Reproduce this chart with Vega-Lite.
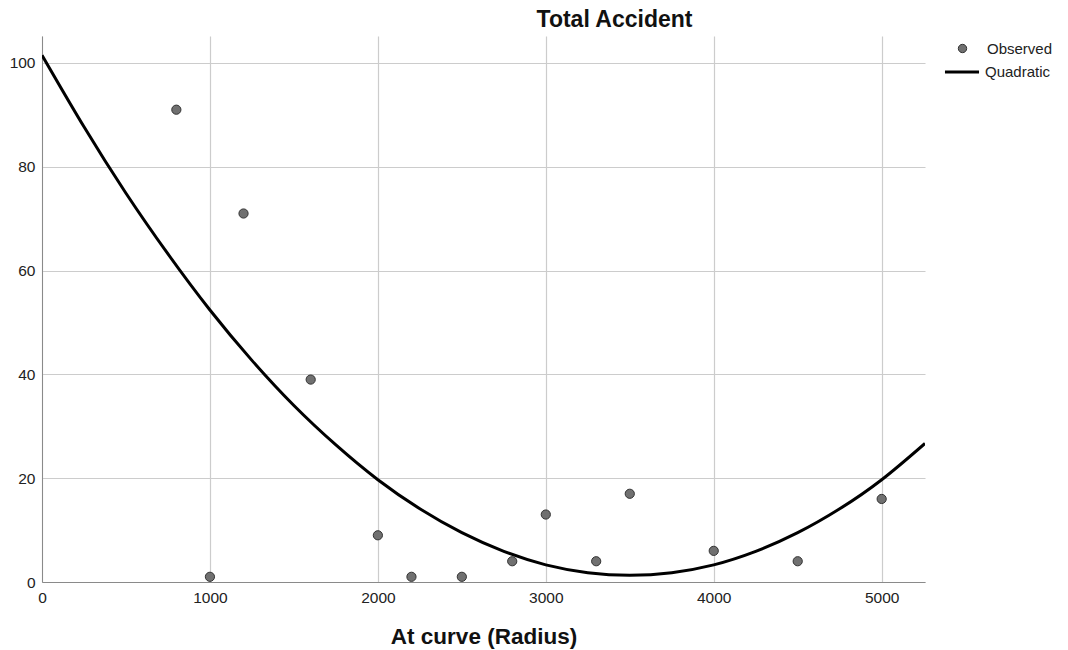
{
  "$schema": "https://vega.github.io/schema/vega-lite/v6.json",
  "autosize": "none",
  "padding": {"left": 42, "top": 36, "right": 143, "bottom": 68},
  "width": 883,
  "height": 546,
  "background": "white",
  "title": {"text": "Total Accident", "fontSize": 23, "fontWeight": "bold", "font": "Liberation Sans", "color": "#111", "anchor": "middle", "dx": 131, "offset": 4},
  "config": {
    "view": {"stroke": null},
    "font": "Liberation Sans",
    "axis": {"domainColor": "#8a8a8a", "gridColor": "#cccccc", "gridWidth": 1.2, "ticks": false, "labelFont": "Liberation Sans", "labelFontSize": 15.5, "labelColor": "#222", "labelFlush": false, "format": "d"}
  },
  "datasets": {
    "obs": [
      {"radius": 800, "acc": 91, "series": "Observed"},
      {"radius": 1000, "acc": 1, "series": "Observed"},
      {"radius": 1200, "acc": 71, "series": "Observed"},
      {"radius": 1600, "acc": 39, "series": "Observed"},
      {"radius": 2000, "acc": 9, "series": "Observed"},
      {"radius": 2200, "acc": 1, "series": "Observed"},
      {"radius": 2500, "acc": 1, "series": "Observed"},
      {"radius": 2800, "acc": 4, "series": "Observed"},
      {"radius": 3000, "acc": 13, "series": "Observed"},
      {"radius": 3300, "acc": 4, "series": "Observed"},
      {"radius": 3500, "acc": 17, "series": "Observed"},
      {"radius": 4000, "acc": 6, "series": "Observed"},
      {"radius": 4500, "acc": 4, "series": "Observed"},
      {"radius": 5000, "acc": 16, "series": "Observed"}
    ],
    "fit": [
      {"radius": 0, "acc": 101.5, "series": "Quadratic"},
      {"radius": 250, "acc": 87.7, "series": "Quadratic"},
      {"radius": 500, "acc": 74.9, "series": "Quadratic"},
      {"radius": 750, "acc": 63.2, "series": "Quadratic"},
      {"radius": 1000, "acc": 52.4, "series": "Quadratic"},
      {"radius": 1250, "acc": 42.7, "series": "Quadratic"},
      {"radius": 1500, "acc": 34.0, "series": "Quadratic"},
      {"radius": 1750, "acc": 26.4, "series": "Quadratic"},
      {"radius": 2000, "acc": 19.7, "series": "Quadratic"},
      {"radius": 2250, "acc": 14.1, "series": "Quadratic"},
      {"radius": 2500, "acc": 9.5, "series": "Quadratic"},
      {"radius": 2750, "acc": 5.9, "series": "Quadratic"},
      {"radius": 3000, "acc": 3.3, "series": "Quadratic"},
      {"radius": 3250, "acc": 1.8, "series": "Quadratic"},
      {"radius": 3500, "acc": 1.3, "series": "Quadratic"},
      {"radius": 3750, "acc": 1.8, "series": "Quadratic"},
      {"radius": 4000, "acc": 3.3, "series": "Quadratic"},
      {"radius": 4250, "acc": 5.9, "series": "Quadratic"},
      {"radius": 4500, "acc": 9.5, "series": "Quadratic"},
      {"radius": 4750, "acc": 14.1, "series": "Quadratic"},
      {"radius": 5000, "acc": 19.7, "series": "Quadratic"},
      {"radius": 5258, "acc": 26.7, "series": "Quadratic"}
    ]
  },
  "encoding": {
    "x": {"field": "radius", "type": "quantitative", "scale": {"domain": [0, 5258], "nice": false, "zero": true},
      "axis": {"values": [0, 1000, 2000, 3000, 4000, 5000], "title": "At curve (Radius)", "titleFontSize": 22.5, "titleFontWeight": "bold", "titleColor": "#111", "titleY": 61, "titleBaseline": "alphabetic", "labelPadding": 8}},
    "y": {"field": "acc", "type": "quantitative", "scale": {"domain": [0, 105.2], "nice": false},
      "axis": {"values": [0, 20, 40, 60, 80, 100], "title": null, "labelPadding": 7}}
  },
  "layer": [
    {
      "data": {"name": "fit"},
      "mark": {"type": "line", "strokeWidth": 3, "interpolate": "natural", "clip": true},
      "encoding": {
        "stroke": {"field": "series", "type": "nominal", "scale": {"domain": ["Quadratic"], "range": ["#000000"]},
          "legend": {"orient": "none", "legendX": 901, "legendY": 17, "title": null, "symbolType": "stroke", "symbolSize": 1160, "symbolStrokeWidth": 3, "labelFontSize": 15, "labelColor": "#222", "labelFont": "Liberation Sans", "labelOffset": 4}}
      }
    },
    {
      "data": {"name": "obs"},
      "mark": {"type": "point", "filled": true, "size": 85, "stroke": "#333333", "strokeWidth": 1, "opacity": 1},
      "encoding": {
        "fill": {"field": "series", "type": "nominal", "scale": {"domain": ["Observed"], "range": ["#707070"]},
          "legend": {"orient": "none", "legendX": 913, "legendY": 5, "title": null, "symbolType": "circle", "symbolSize": 70, "symbolStrokeColor": "#333333", "symbolStrokeWidth": 1, "symbolOpacity": 1, "labelFontSize": 15, "labelColor": "#222", "labelFont": "Liberation Sans", "labelOffset": 17}}
      }
    }
  ]
}
